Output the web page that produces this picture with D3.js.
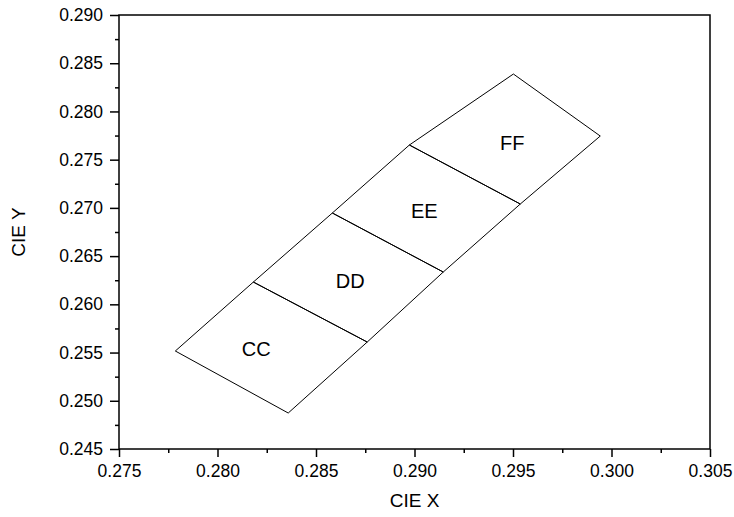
<!DOCTYPE html>
<html>
<head>
<meta charset="utf-8">
<script src="https://cdn.jsdelivr.net/npm/d3@7"></script>
<style>
  body { margin: 0; background: #fff; }
  svg text { font-family: "Liberation Sans", Arial, sans-serif; fill: #000; }
  .axis path, .axis line { stroke: #000; }
  .axis text { font-size: 17.5px; font-family: "Liberation Sans", Arial, sans-serif; }
</style>
</head>
<body>
<svg id="chart" width="734" height="517"></svg>
<script>
// boundary points of the strip (bottom to top), split into four regions
const leftX = [0.27786, 0.28182, 0.28583, 0.28974, 0.29502];
const leftY = [0.25516, 0.26231, 0.26947, 0.27652, 0.28388];
const rightX = [0.28359, 0.28760, 0.29146, 0.29537, 0.29943];
const rightY = [0.24873, 0.25609, 0.26335, 0.27040, 0.27745];

const regionNames = ['CC', 'DD', 'EE', 'FF'];
const labelX = [0.28197, 0.28674, 0.29050, 0.29496];
const labelY = [0.25537, 0.26242, 0.26968, 0.27673];

const xTicks = [0.275, 0.280, 0.285, 0.290, 0.295, 0.300, 0.305];
const yTicks = [0.245, 0.250, 0.255, 0.260, 0.265, 0.270, 0.275, 0.280, 0.285, 0.290];

const margin = { top: 15, right: 24, bottom: 68, left: 119 };
const width = 734 - margin.left - margin.right;
const height = 517 - margin.top - margin.bottom;

const svg = d3.select('#chart');
const g = svg.append('g')
  .attr('transform', `translate(${margin.left}, ${margin.top})`);

const x = d3.scaleLinear().domain([0.275, 0.305]).range([0, width]);
const y = d3.scaleLinear().domain([0.245, 0.290]).range([height, 0]);

// minor ticks
const xMinor = d3.range(0.2775, 0.305, 0.005);
const yMinor = d3.range(0.2475, 0.290, 0.005);

g.append('g')
  .attr('class', 'axis')
  .attr('transform', `translate(0, ${height})`)
  .call(d3.axisBottom(x).tickValues(xMinor).tickSize(4).tickFormat(''))
  .call(a => a.select('.domain').remove());

g.append('g')
  .attr('class', 'axis')
  .call(d3.axisLeft(y).tickValues(yMinor).tickSize(4).tickFormat(''))
  .call(a => a.select('.domain').remove());

const xAxis = g.append('g')
  .attr('class', 'axis')
  .attr('transform', `translate(0, ${height})`)
  .call(d3.axisBottom(x).tickValues(xTicks).tickSize(8).tickPadding(8).tickFormat(d3.format('.3f')));
xAxis.select('.domain').remove();

const yAxis = g.append('g')
  .attr('class', 'axis')
  .call(d3.axisLeft(y).tickValues(yTicks).tickSize(9).tickPadding(7).tickFormat(d3.format('.3f')));
yAxis.select('.domain').remove();

g.selectAll('.axis line').attr('stroke-width', 1.5);

// frame
g.append('rect')
  .attr('width', width)
  .attr('height', height)
  .attr('fill', 'none')
  .attr('stroke', '#000')
  .attr('stroke-width', 1.5);

// regions
const cells = regionNames.map((name, i) => [
  [leftX[i], leftY[i]],
  [leftX[i + 1], leftY[i + 1]],
  [rightX[i + 1], rightY[i + 1]],
  [rightX[i], rightY[i]]
]);

g.append('g')
  .selectAll('path')
  .data(cells)
  .enter()
  .append('path')
  .attr('d', d => d3.line().x(p => x(p[0])).y(p => y(p[1]))(d) + 'Z')
  .attr('fill', 'none')
  .attr('stroke', '#000')
  .attr('stroke-width', 1);

g.append('g')
  .selectAll('text')
  .data(regionNames)
  .enter()
  .append('text')
  .attr('x', (d, i) => x(labelX[i]))
  .attr('y', (d, i) => y(labelY[i]))
  .attr('dy', '0.35em')
  .attr('text-anchor', 'middle')
  .attr('font-size', 20)
  .text(d => d);

// axis titles
svg.append('text')
  .attr('x', margin.left + width / 2)
  .attr('y', 507)
  .attr('text-anchor', 'middle')
  .attr('font-size', 19)
  .text('CIE X');

svg.append('text')
  .attr('transform', `translate(25, ${margin.top + height / 2}) rotate(-90)`)
  .attr('text-anchor', 'middle')
  .attr('font-size', 19)
  .text('CIE Y');
</script>
</body>
</html>
